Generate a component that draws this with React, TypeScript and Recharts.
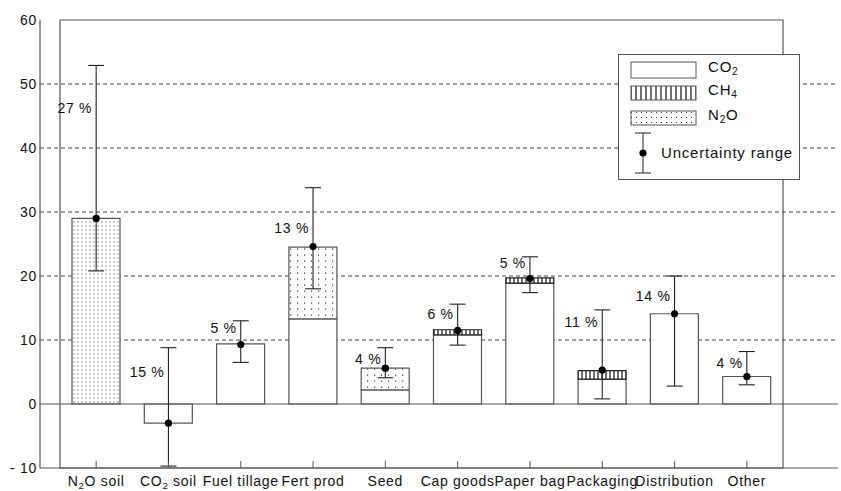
import React from 'react';
import {
  ComposedChart,
  Bar,
  Cell,
  Scatter,
  ErrorBar,
  XAxis,
  YAxis,
  CartesianGrid,
  ReferenceLine,
  ReferenceArea,
  Legend,
} from 'recharts';

const categories = ['N₂O soil', 'CO₂ soil', 'Fuel tillage', 'Fert prod', 'Seed', 'Cap goods', 'Paper bag', 'Packaging', 'Distribution', 'Other'];
const co2 = [0, -3, 9.4, 13.3, 2.2, 10.8, 18.9, 3.9, 14.1, 4.3];
const ch4 = [0, 0, 0, 0, 0, 0.8, 0.8, 1.3, 0, 0];
const n2o = [29, 0, 0, 11.2, 3.4, 0, 0, 0, 0, 0];
const central = [29, -3, 9.3, 24.6, 5.6, 11.5, 19.6, 5.3, 14.1, 4.3];
const low = [20.8, -9.7, 6.5, 18, 4.1, 9.2, 17.4, 0.8, 2.8, 3.0];
const high = [52.9, 8.8, 13, 33.8, 8.8, 15.6, 23, 14.7, 20, 8.2];
const shares = ['27 %', '15 %', '5 %', '13 %', '4 %', '6 %', '5 %', '11 %', '14 %', '4 %'];
const shareAt = [46.3, 5, 11.9, 27.5, 7, 14.1, 22, 12.8, 16.9, 6.4];
const yTicks = [-10, 0, 10, 20, 30, 40, 50, 60];
const gridValues = [10, 20, 30, 40, 50];

const data = categories.map((name, i) => ({
  name,
  co2: co2[i],
  ch4: ch4[i],
  n2o: n2o[i],
  point: central[i],
  err: [central[i] - low[i], high[i] - central[i]],
  share: shares[i],
  shareAt: shareAt[i],
}));

const FONT = '"Liberation Sans", Arial, sans-serif';
const INK = '#555';

// splits "N₂O" into tspans so the subscript is drawn smaller and lower
const chem = (s: string, size: number) => {
  const subs: Record<string, string> = { '₂': '2', '₄': '4' };
  const parts = s.split(/([₂₄])/).filter((p) => p !== '');
  let afterSub = false;
  return parts.map((p, k) => {
    if (subs[p]) {
      afterSub = true;
      return (
        <tspan key={k} fontSize={size * 0.68} dy={2.5}>
          {subs[p]}
        </tspan>
      );
    }
    const dy = afterSub ? -2.5 : 0;
    afterSub = false;
    return (
      <tspan key={k} dy={dy}>
        {p}
      </tspan>
    );
  });
};

const CategoryTick = (props: any) => {
  const { x, y, payload } = props;
  return (
    <g>
      <line x1={x} x2={x} y1={y - 7} y2={y} stroke={INK} />
      <text x={x} y={y + 18} textAnchor="middle" fontSize={14} letterSpacing={0.7} fill="#111" fontFamily={FONT}>
        {chem(payload.value, 14)}
      </text>
    </g>
  );
};

const Dot = (props: any) => <circle cx={props.cx} cy={props.cy} r={3.6} fill="#000" />;

const ShareLabel = (props: any) => (
  <text x={props.cx - 4} y={props.cy} dy="0.35em" textAnchor="end" fontSize={14} letterSpacing={0.7} fill="#111" fontFamily={FONT}>
    {props.payload.share}
  </text>
);

const LegendBox = () => (
  <div style={{ width: 182, height: 126, border: `1px solid ${INK}`, background: '#fff', boxSizing: 'border-box' }}>
    <svg width={180} height={124} style={{ display: 'block' }}>
      <defs>
        <pattern id="lg-ch4" width={5} height={10} patternUnits="userSpaceOnUse">
          <rect width={5} height={10} fill="#fff" />
          <line x1={2} x2={2} y1={0} y2={10} stroke="#111" strokeWidth={1.2} />
        </pattern>
        <pattern id="lg-n2o" width={5} height={5} patternUnits="userSpaceOnUse">
          <rect width={5} height={5} fill="#fff" />
          <rect x={2} y={2} width={1} height={1} fill="#333" />
        </pattern>
      </defs>
      <g fontFamily={FONT} fontSize={15} letterSpacing={0.8} fill="#111">
        <rect x={12} y={7} width={65} height={16} fill="#fff" stroke={INK} />
        <text x={89} y={17} dy="0.35em">{chem('CO₂', 15)}</text>
        <rect x={12} y={31} width={65} height={14} fill="url(#lg-ch4)" stroke={INK} />
        <text x={89} y={40} dy="0.35em">{chem('CH₄', 15)}</text>
        <rect x={12} y={56} width={65} height={14} fill="url(#lg-n2o)" stroke={INK} />
        <text x={89} y={65} dy="0.35em">{chem('N₂O', 15)}</text>
        <line x1={24} x2={24} y1={78} y2={118} stroke="#222" />
        <line x1={16} x2={32} y1={78} y2={78} stroke="#222" />
        <line x1={16} x2={32} y1={118} y2={118} stroke="#222" />
        <circle cx={24} cy={98} r={3.6} fill="#000" />
        <text x={42} y={98} dy="0.35em">Uncertainty range</text>
      </g>
    </svg>
  </div>
);

export default function App() {
  return (
    <div style={{ position: 'absolute', left: 0, top: 0, width: 841, height: 491, background: '#fff' }}>
      <ComposedChart width={841} height={491} data={data} margin={{ top: 20, right: 3, left: 0, bottom: 3 }} stackOffset="sign">
        <defs>
          <pattern id="ch4" width={4} height={10} patternUnits="userSpaceOnUse">
            <rect width={4} height={10} fill="#fff" />
            <line x1={2} x2={2} y1={0} y2={10} stroke="#111" strokeWidth={1.2} />
          </pattern>
          <pattern id="n2o-dense" width={4} height={4} patternUnits="userSpaceOnUse">
            <rect width={4} height={4} fill="#fff" />
            <rect x={1.5} y={1.5} width={1} height={1} fill="#333" />
          </pattern>
          <pattern id="n2o-sparse" width={7} height={6} patternUnits="userSpaceOnUse">
            <rect width={7} height={6} fill="#fff" />
            <rect x={3} y={2.5} width={1.2} height={1.2} fill="#333" />
          </pattern>
        </defs>
        <CartesianGrid horizontal vertical={false} horizontalValues={gridValues} stroke="#444" strokeDasharray="4 3" />
        <ReferenceArea y1={-10} y2={60} fill="none" stroke={INK} strokeWidth={1.2} />
        <XAxis
          dataKey="name"
          interval={0}
          padding={{ left: 20, right: 55 }}
          height={20}
          tickLine={false}
          tickSize={0}
          tickMargin={0}
          axisLine={{ stroke: INK, strokeWidth: 1.2 }}
          tick={<CategoryTick />}
        />
        <YAxis
          domain={[-10, 60]}
          ticks={yTicks}
          width={40}
          tickLine={false}
          tickSize={3}
          tickMargin={0}
          axisLine={{ stroke: INK, strokeWidth: 1.2 }}
          tickFormatter={(v: number) => (v < 0 ? `- ${-v}` : `${v}`)}
          tick={{ fontSize: 14, fill: '#111', fontFamily: FONT, letterSpacing: 0.7 }}
        />
        <Bar dataKey="co2" stackId="g" barSize={48} fill="#fff" stroke={INK} strokeWidth={1.2} isAnimationActive={false} />
        <Bar dataKey="ch4" stackId="g" barSize={48} fill="url(#ch4)" stroke="#222" strokeWidth={1.2} isAnimationActive={false} />
        <Bar dataKey="n2o" stackId="g" barSize={48} fill="url(#n2o-sparse)" stroke={INK} strokeWidth={1.2} isAnimationActive={false}>
          {data.map((d, i) => (
            <Cell key={d.name} fill={i === 0 ? 'url(#n2o-dense)' : 'url(#n2o-sparse)'} />
          ))}
        </Bar>
        <ReferenceLine y={0} stroke={INK} strokeWidth={1.2} />
        <Scatter dataKey="point" shape={<Dot />} isAnimationActive={false}>
          <ErrorBar dataKey="err" direction="y" width={8} stroke="#222" strokeWidth={1.1} />
        </Scatter>
        <Scatter dataKey="shareAt" shape={<ShareLabel />} isAnimationActive={false} />
        <Legend layout="vertical" align="center" verticalAlign="middle" wrapperStyle={{ left: 618, top: 54, width: 182, height: 126 }} content={<LegendBox />} />
      </ComposedChart>
    </div>
  );
}
